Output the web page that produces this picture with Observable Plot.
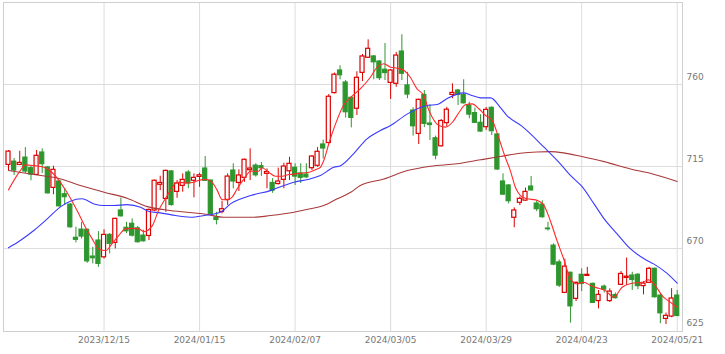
<!DOCTYPE html>
<html>
<head>
<meta charset="utf-8">
<script src="https://cdn.jsdelivr.net/npm/d3@7"></script>
<script src="https://cdn.jsdelivr.net/npm/@observablehq/plot@0.6"></script>
<style>
  html, body { margin: 0; padding: 0; background: #fff; }
  #chart svg { display: block; }
</style>
</head>
<body>
<div id="chart"></div>
<script>
// Daily candles, index 0 = 2023/11/21 ... 119 = 2024/05/21 (trading days)
const openP = [715.9,717.7,715.9,719.9,714.1,710.4,722.7,714.5,703.3,706.8,
  699.8,694.1,675.9,680.4,680.3,665.6,674.4,665.2,677.5,673.1,
  690.9,681.4,683.6,681.1,677.1,676.9,690.9,705.0,697.2,712.3,
  701.1,704.4,711.7,707.2,709.3,713.9,707.3,687.0,690.1,696.7,
  712.8,706.0,708.8,713.0,715.5,715.2,711.0,706.0,705.4,707.7,
  712.4,714.3,711.2,710.6,714.1,715.4,727.1,727.9,755.3,767.7,
  761.1,752.7,746.7,766.4,774.7,775.4,772.6,768.1,760.9,760.4,
  778.1,759.5,745.7,732.9,754.3,738.6,730.5,726.1,738.8,754.3,
  756.7,754.3,748.5,744.3,739.0,736.6,747.2,732.6,706.8,704.6,
  686.9,695.1,696.3,704.0,694.7,694.1,681.0,671.6,662.4,645.7,
  656.7,642.4,655.6,655.0,650.6,641.2,649.1,641.2,644.5,650.1,
  653.9,655.2,655.6,649.4,651.2,658.9,644.2,631.4,632.7,644.2];
const highP = [723.8,719.4,723.4,725.4,715.0,723.8,724.7,715.0,715.2,707.3,
  702.8,694.7,681.7,684.4,680.7,670.7,679.3,680.3,678.2,686.7,
  697.7,684.4,686.3,682.1,680.1,691.7,707.6,709.7,713.1,712.8,
  707.3,711.0,712.8,711.0,711.3,720.5,707.6,689.9,696.0,711.0,
  716.5,713.2,719.1,724.7,716.5,717.2,713.7,708.4,714.1,716.8,
  720.1,716.5,716.5,716.5,721.0,725.4,729.5,754.5,766.3,770.3,
  762.2,753.4,767.0,776.5,784.5,775.9,773.2,782.5,768.2,777.6,
  787.3,766.7,747.2,752.0,756.7,748.9,731.7,740.8,747.5,760.4,
  757.3,762.6,750.3,747.1,743.4,747.4,747.7,733.1,711.0,705.1,
  692.3,698.3,703.2,709.5,696.1,696.2,684.4,672.6,663.7,664.2,
  657.1,651.6,658.9,659.7,651.1,647.0,650.0,647.9,645.6,657.4,
  664.8,657.0,656.3,651.9,659.7,659.3,644.8,634.6,648.0,647.0];
const lowP = [712.4,710.1,715.5,711.2,707.2,710.1,711.2,699.9,699.5,692.8,
  693.6,681.2,673.1,675.3,661.9,661.6,659.7,664.3,667.1,669.8,
  687.3,678.2,676.3,673.0,673.6,674.4,690.3,701.8,689.9,693.3,
  697.6,700.9,702.8,697.8,703.6,706.8,688.7,683.0,689.0,693.6,
  702.8,701.3,706.4,707.3,709.2,709.6,702.8,700.3,704.9,702.8,
  707.3,704.6,705.7,708.4,712.8,714.6,719.2,727.4,754.8,762.6,
  741.6,736.2,743.0,761.6,774.3,762.6,762.2,762.2,751.8,758.5,
  762.2,752.2,731.7,727.1,736.4,729.3,718.7,725.7,736.6,752.2,
  748.5,749.3,741.2,738.6,733.9,734.8,732.0,712.8,699.1,694.5,
  681.4,693.6,696.0,701.6,690.3,686.7,679.6,660.6,648.6,645.3,
  629.1,640.9,646.4,654.6,639.8,636.9,645.6,640.4,642.3,649.7,
  649.7,647.0,647.4,644.6,650.8,642.8,628.8,628.3,632.1,632.7];
const closeP = [723.2,712.8,717.0,712.3,710.6,720.9,716.3,700.3,713.2,693.2,
  698.2,681.7,674.8,676.6,663.0,664.7,661.6,677.5,672.6,686.3,
  687.7,679.5,677.1,673.5,674.0,691.2,707.2,706.0,712.6,693.9,
  705.7,707.7,705.7,708.8,710.2,707.2,689.0,685.7,691.6,709.5,
  706.8,710.1,718.7,713.9,710.2,714.1,712.0,701.8,706.8,715.0,
  716.5,709.5,708.8,709.1,720.5,723.1,724.9,753.3,765.4,765.1,
  744.8,741.7,763.7,775.4,779.6,772.2,763.5,766.3,767.7,775.9,
  765.9,754.5,737.1,751.6,738.4,737.8,721.0,740.0,746.2,755.4,
  754.3,749.7,743.5,739.0,734.2,746.1,734.4,713.4,699.6,696.0,
  690.9,697.3,701.1,701.9,691.6,687.2,680.6,661.2,649.7,660.1,
  638.3,651.2,650.6,655.6,640.2,644.6,647.5,646.4,642.8,656.1,
  654.6,652.8,649.4,650.8,658.9,643.3,634.5,633.1,642.6,633.0];

// Moving averages (day index, value)
const ma5Idx = [0,2.1,3,4.5,6.3,7.5,9,10.4,12.2,14,14.9,16.1,17.3,18.4,19.6,20.8,22,23.2,24.1,25.6,26.7,27.9,28.8,30,31.8,33,34.2,35.3,36.2,37.1,38,38.9,39.8,40.7,41.9,43.1,44.5,45.1,46.3,47.5,48.7,49.9,51.1,52.3,53.5,54.7,55.5,56.1,57,58.2,59.6,60.9,62.6,64.4,65.6,66.8,68,69.2,70.4,71.5,72.7,73.9,74.7,75.4,76.6,77.8,79,80.2,81.3,82.5,83.7,84.9,86.1,87.2,88.4,89.3,90.2,91.1,92.3,93.8,95.3,96.4,97.6,98.8,100,101.2,102.4,103.6,105,106.2,107.7,109.2,111,112.8,113.9,115.1,116.3,117.8,119];
const ma5Val = [702.2,712.8,715.9,715.5,714.6,712.4,707.3,700.9,690.9,679.9,675.3,669.8,668.9,672.6,677.1,680.8,681.1,680.8,679.3,682.6,690.9,697.3,701.8,706.4,706.0,706.4,707.7,707.9,706.4,702.2,696.9,696.7,698.2,702.8,708.2,712.4,712.4,714.3,711.9,709.7,709.7,710.6,711.0,711.5,711.9,713.4,714.6,718.3,727.5,738.4,748.5,753.0,757.6,764.0,769.5,771.4,769.5,769.0,767.7,764.0,757.6,754.0,746.7,742.1,737.5,736.6,739.3,744.8,748.9,749.4,746.7,743.0,740.2,731.1,720.1,712.8,703.6,699.1,697.3,696.7,693.6,685.4,674.4,664.3,653.4,650.6,651.5,649.7,648.2,647.0,643.3,648.8,651.0,651.5,652.8,649.7,644.2,640.5,637.8];
const ma25Idx = [0,2.1,4.5,6.9,9.3,11,13.1,15.2,17,18.7,21.1,23.5,25,27,29,32.4,34.8,37.7,39.5,43.1,46.6,49,50.8,53.7,55.5,57.9,59.1,61.4,63.8,66.2,68,71,74.5,76.3,78,81,82.2,84,85.8,87.5,88.7,91.4,95.3,98.2,100,102,104.2,106,108.3,110.7,113.1,114.8,117.2,119];
const ma25Val = [670.4,674.4,679.9,686.3,693.0,696.0,697.3,694.5,693.6,693.6,694.1,692.7,690.3,689.6,688.5,687.2,688.1,689.9,694.5,699.1,701.8,704.6,706.4,708.2,710.1,714.6,715.5,722.0,730.2,734.8,737.5,743.9,748.5,749.0,752.2,755.4,754.3,752.7,752.7,747.5,743.0,737.0,725.6,716.5,710.1,704.2,694.5,686.3,678.1,669.8,664.4,661.6,656.4,651.0];
const ma75Idx = [0,4.5,9.3,12.8,17,21.1,24.7,28.8,34.8,38.3,43.7,46.6,50.8,53.7,56.1,58.5,60.9,62.6,66.8,71,75.1,79.8,84,87.5,91.1,94,96.4,98.8,102,106,110.7,114.2,119];
const ma75Val = [712.8,710.6,708.2,704.6,700.9,697.6,693.0,690.9,689.0,687.2,687.2,688.1,689.9,691.8,693.6,697.3,700.9,704.6,708.2,712.8,715.2,716.5,718.7,720.5,722.3,723.0,723.2,722.5,720.5,717.7,713.7,711.3,706.8];

const yTicks = [625, 670, 715, 760];
const tickIdx = [17, 34, 51, 68, 85, 102, 119];
const tickLabels = ["2023/12/15","2024/01/15","2024/02/07","2024/03/05","2024/03/29","2024/04/23","2024/05/21"];

const UP = "#dd0000", DOWN = "#2e962e";
const candles = openP.map((o, i) => ({i, o, h: highP[i], l: lowP[i], c: closeP[i], up: closeP[i] >= o}));
const line = (idx, val) => idx.map((x, k) => ({x, v: val[k]}));

const chart = Plot.plot({
  width: 725,
  height: 354,
  marginLeft: 3,
  marginRight: 43,
  marginTop: 2,
  marginBottom: 23,
  style: {fontFamily: "DejaVu Sans, sans-serif", fontSize: "9px", background: "#fff", color: "#777"},
  x: {type: "linear", domain: [-0.89, 119.94]},
  y: {domain: [624.5, 805]},
  marks: [
    Plot.ruleY([670, 715, 760], {stroke: "#dcdcdc"}),
    Plot.ruleX(tickIdx, {stroke: "#dcdcdc"}),
    Plot.frame({stroke: "#cfcfcf"}),
    Plot.ruleX(candles, {x: "i", y1: "l", y2: "h", stroke: d => d.up ? UP : DOWN, strokeWidth: 1}),
    Plot.rect(candles, {
      x1: d => d.i - 0.36, x2: d => d.i + 0.36,
      y1: d => Math.min(d.o, d.c), y2: d => Math.max(d.o, d.c),
      fill: d => d.up ? "#fff" : DOWN,
      stroke: d => d.up ? UP : DOWN,
      strokeWidth: 1.2
    }),
    Plot.line(line(ma75Idx, ma75Val), {x: "x", y: "v", stroke: "#a83a3a", strokeWidth: 1.1, curve: "monotone-x"}),
    Plot.line(line(ma25Idx, ma25Val), {x: "x", y: "v", stroke: "#3a3aff", strokeWidth: 1.1, curve: "monotone-x"}),
    Plot.line(line(ma5Idx, ma5Val), {x: "x", y: "v", stroke: "#ff2a2a", strokeWidth: 1.1, curve: "monotone-x"}),
    Plot.axisY(yTicks, {anchor: "right", tickSize: 0, tickPadding: 4, dy: -7, textAnchor: "start", fill: "#777", label: null}),
    Plot.axisX(tickIdx, {anchor: "bottom", tickSize: 0, tickPadding: 5, fill: "#777", label: null,
      tickFormat: d => tickLabels[tickIdx.indexOf(d)]})
  ]
});
document.getElementById("chart").appendChild(chart);
</script>
</body>
</html>
